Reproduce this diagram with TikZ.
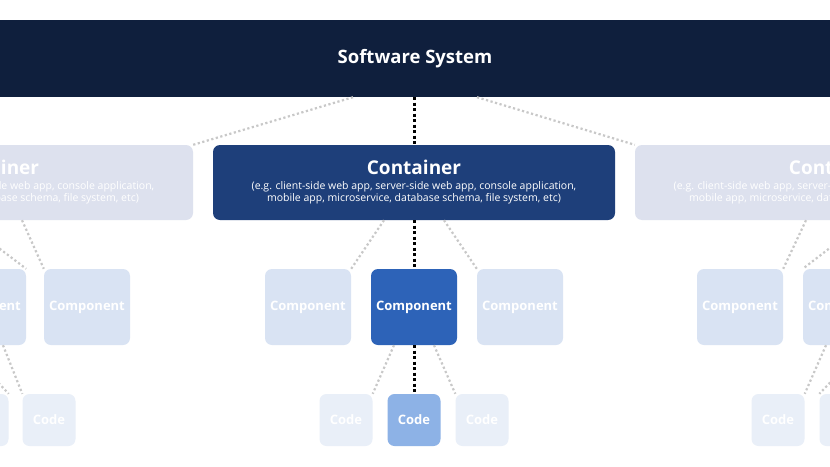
\documentclass[tikz,border=0pt]{standalone}
\usepackage{fontspec}
\setmainfont{Open Sans}
\usepackage{tikz}
\definecolor{sysnavy}{HTML}{0F1F3D}
\definecolor{contblue}{HTML}{1E3F7A}
\definecolor{compblue}{HTML}{2D63B8}
\definecolor{codeblue}{HTML}{8DB2E6}
\definecolor{fadecont}{HTML}{DDE1EE}
\definecolor{fadecomp}{HTML}{D9E3F3}
\definecolor{fadecode}{HTML}{E9EFF8}
\definecolor{fadeline}{HTML}{C8C8C8}
\newcommand{\contbody}[1]{{\bfseries\fontsize{19}{23}\selectfont #1}\\[3pt]
  {\fontsize{10.5}{14}\selectfont (e.g. client-side web app, server-side web app, console application,}\\
  {\fontsize{10.5}{14}\selectfont mobile app, microservice, database schema, file system, etc)}}
\tikzset{
  box/.style={rounded corners=7pt, inner sep=0pt, text=white, align=center},
  cont/.style={box, minimum width=402pt, minimum height=75pt},
  comp/.style={box, minimum width=86pt, minimum height=76pt, font=\bfseries\fontsize{13}{15}\selectfont},
  code/.style={box, minimum width=53pt, minimum height=52pt, font=\bfseries\fontsize{13}{15}\selectfont},
  link/.style={line width=3pt, dash pattern=on 3pt off 2.5pt, black},
  fade/.style={line width=2.2pt, dash pattern=on 2.2pt off 2.5pt, fadeline}
}
\begin{document}
\begin{tikzpicture}[x=1pt,y=-1pt]
\useasboundingbox (0,0) rectangle (830,466);
\clip (0,0) rectangle (830,466);
\fill[white] (0,0) rectangle (830,466);

% software system
\node[fill=sysnavy, minimum width=840pt, minimum height=77pt, inner sep=0pt, text=white,
  font=\bfseries\fontsize{18.5}{22}\selectfont] (sys) at (415,58.5) {Software System};

% containers
\node[cont, fill=contblue] (cmain) at (414,182.5) {\contbody{Container}};
\node[cont, fill=fadecont] (cleft) at (-8,182.5) {\contbody{Container}};
\node[cont, fill=fadecont] (cright) at (836,182.5) {\contbody{Container}};

% components
\node[comp, fill=compblue] (pmain) at (414,307) {Component};
\node[comp, fill=fadecomp] (pl) at (308,307) {Component};
\node[comp, fill=fadecomp] (pr) at (520,307) {Component};
\node[comp, fill=fadecomp] (pll) at (-17,307) {Component};
\node[comp, fill=fadecomp] (plr) at (87,307) {Component};
\node[comp, fill=fadecomp] (prl) at (740,307) {Component};
\node[comp, fill=fadecomp] (prr) at (846,307) {Component};

% code
\node[code, fill=codeblue] (kmain) at (414,420) {Code};
\node[code, fill=fadecode] (kl) at (346,420) {Code};
\node[code, fill=fadecode] (kr) at (482,420) {Code};
\node[code, fill=fadecode] (kll) at (-18,420) {Code};
\node[code, fill=fadecode] (klr) at (49,420) {Code};
\node[code, fill=fadecode] (krl) at (778,420) {Code};
\node[code, fill=fadecode] (krr) at (846,420) {Code};

% links
\draw[link] (sys.south -| cmain) -- (cmain.north);
\draw[link] (cmain.south -| pmain) -- (pmain.north);
\draw[link] (pmain) -- (kmain);
\draw[fade] ([xshift=-62pt]sys.south) -- (cleft.north east);
\draw[fade] ([xshift=62pt]sys.south) -- (cright.north west);
\draw[fade] ([xshift=-30pt]cmain.south) -- (pl.north east);
\draw[fade] ([xshift=30pt]cmain.south) -- (pr.north west);
\draw[fade] ([xshift=-20pt]pmain.south) -- (kl.north east);
\draw[fade] ([xshift=20pt]pmain.south) -- (kr.north west);
\draw[fade] ([xshift=-30pt]cleft.south) -- (pll.north east);
\draw[fade] ([xshift=30pt]cleft.south) -- (plr.north west);
\draw[fade] ([xshift=-30pt]cright.south) -- (prl.north east);
\draw[fade] ([xshift=30pt]cright.south) -- (prr.north west);
\draw[fade] ([xshift=-20pt]pll.south) -- (kll.north east);
\draw[fade] ([xshift=20pt]pll.south) -- (klr.north west);
\draw[fade] ([xshift=-20pt]prr.south) -- (krl.north east);
\draw[fade] ([xshift=20pt]prr.south) -- (krr.north west);
\end{tikzpicture}
\end{document}
